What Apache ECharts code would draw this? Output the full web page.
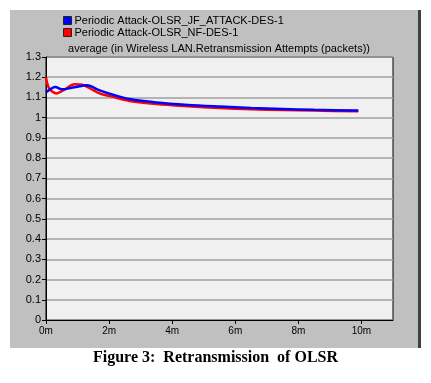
<!DOCTYPE html>
<html><head><meta charset="utf-8">
<script src="https://cdn.jsdelivr.net/npm/echarts@6/dist/echarts.min.js"></script>
<style>html,body{margin:0;padding:0;background:#fff}#c{width:431px;height:383px}</style>
</head><body><div id="c"></div>
<script>
const seriesNames = ['Periodic Attack-OLSR_JF_ATTACK-DES-1', 'Periodic Attack-OLSR_NF-DES-1'];
const blueT = [0, 0.3, 0.5, 0.9, 1.3, 1.7, 2.2, 2.65, 3.5, 4.5, 5.5, 6.5, 7.5, 8.5, 9.9];
const blueV = [1.125, 1.152, 1.14, 1.15, 1.16, 1.135, 1.11, 1.092, 1.075, 1.063, 1.055, 1.048, 1.043, 1.039, 1.035];
const redT = [0, 0.1, 0.33, 0.6, 0.9, 1.2, 1.7, 2.2, 2.65, 3.5, 4.5, 5.5, 6.5, 7.5, 8.5, 9.9];
const redV = [1.20, 1.145, 1.12, 1.14, 1.165, 1.16, 1.12, 1.10, 1.083, 1.068, 1.057, 1.048, 1.042, 1.038, 1.035, 1.032];
const xTickLabels = ['0m', '2m', '4m', '6m', '8m', '10m'];
const chartTitle = 'average (in Wireless LAN.Retransmission Attempts (packets))';
const caption = 'Figure 3:  Retransmission  of OLSR';

const chart = echarts.init(document.getElementById('c'), null, {renderer: 'canvas'});
const zip = (t, v) => t.map((x, i) => [x, v[i]]);
chart.setOption({
  animation: false,
  backgroundColor: '#fff',
  graphic: [
    {type: 'rect', z: -10, shape: {x: 10, y: 10, width: 408, height: 338}, style: {fill: '#c0c0c0'}},
    {type: 'rect', z: -9, shape: {x: 418, y: 10, width: 3, height: 338}, style: {fill: '#404040'}},
    {type: 'text', left: 'center', top: 350, style: {text: caption, font: 'bold 16px "Liberation Serif", "DejaVu Serif", serif', fill: '#000'}},
    {type: 'text', x: 219, y: 49, style: {text: chartTitle, align: 'center', verticalAlign: 'middle', font: '11px "Liberation Sans", Arial, sans-serif', fill: '#000'}}
  ],
  legend: {
    orient: 'vertical', left: 58, top: 10, itemGap: 1, itemWidth: 8, itemHeight: 8, icon: 'rect', padding: [5, 5, 5, 5],
    textStyle: {fontFamily: 'Liberation Sans, Arial, sans-serif', fontSize: 11, color: '#000', padding: [0, 0, 0, -2]},
    data: seriesNames.map(n => ({name: n, itemStyle: {borderColor: '#222', borderWidth: 1}}))
  },
  grid: {left: 46, right: 38, top: 57, bottom: 63, show: true, backgroundColor: '#f0f0f0', borderColor: '#000', borderWidth: 1},
  xAxis: {
    type: 'value', min: 0, max: 11, interval: 2,
    axisLine: {lineStyle: {color: '#000'}},
    axisTick: {show: true, length: 4, lineStyle: {color: '#000'}},
    axisLabel: {showMaxLabel: false, margin: 6, fontFamily: 'Liberation Sans, Arial, sans-serif', fontSize: 10, color: '#000',
      formatter: v => xTickLabels[v / 2] || ''},
    splitLine: {show: false}
  },
  yAxis: {
    type: 'value', min: 0, max: 1.3, interval: 0.1,
    axisLine: {show: true, lineStyle: {color: '#000'}},
    axisTick: {show: true, length: 4, lineStyle: {color: '#000'}},
    axisLabel: {margin: 5, fontFamily: 'Liberation Sans, Arial, sans-serif', fontSize: 11, color: '#000',
      formatter: v => String(Math.round(v * 10) / 10)},
    splitLine: {show: true, lineStyle: {color: '#a0a0a0', width: 1.5}}
  },
  series: [
    {name: seriesNames[1], type: 'line', data: zip(redT, redV), showSymbol: false, smooth: 0.3, color: '#ff0000', lineStyle: {width: 2.5, color: '#ff0000'}, z: 2},
    {name: seriesNames[0], type: 'line', data: zip(blueT, blueV), showSymbol: false, smooth: 0.3, color: '#0000ff', lineStyle: {width: 2.5, color: '#0000ff'}, z: 3}
  ]
});
</script></body></html>
